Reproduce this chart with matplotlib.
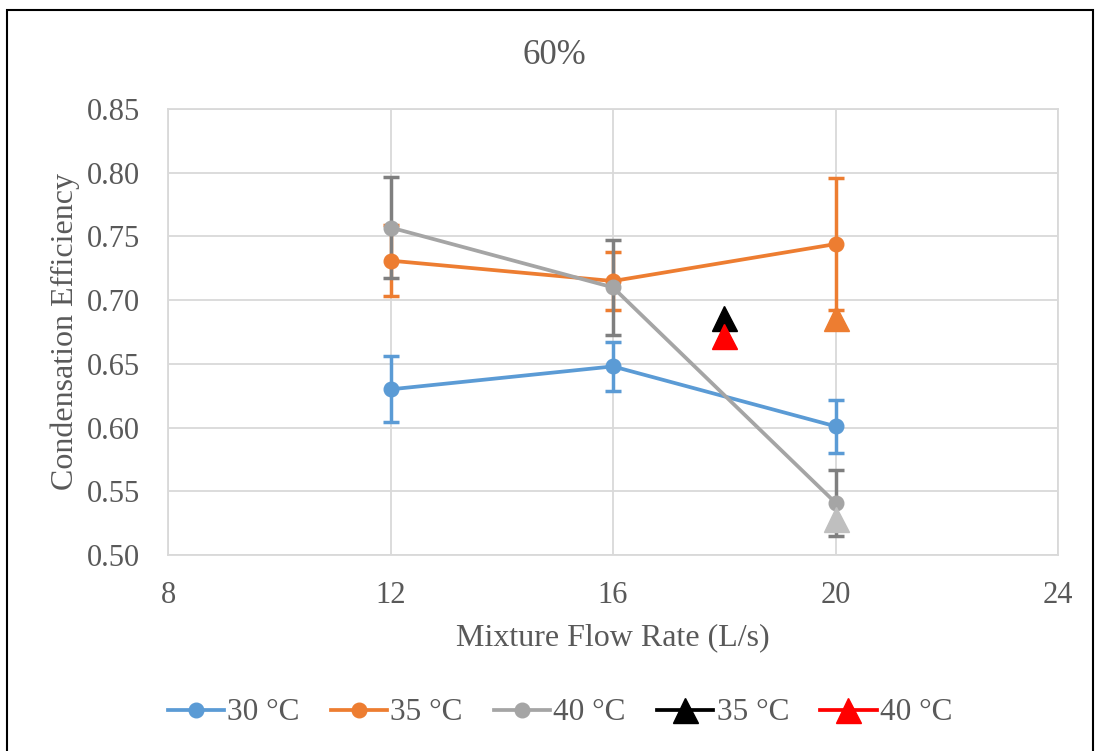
import matplotlib
matplotlib.use("Agg")
import matplotlib.pyplot as plt
from matplotlib.lines import Line2D
from matplotlib.patches import Rectangle

plt.rcParams['font.family'] = ['Liberation Serif', 'DejaVu Serif']

flow = [12, 16, 20]
eff_30 = [0.630, 0.648, 0.601]
err_30 = [0.026, 0.019, 0.021]
eff_35 = [0.731, 0.715, 0.744]
err_35 = [0.028, 0.023, 0.052]
eff_40 = [0.757, 0.710, 0.541]
err_40 = [0.040, 0.037, 0.026]

tri_black_x = [18]
tri_black_y = [0.686]
tri_red_x = [18]
tri_red_y = [0.672]
tri_orange_x = [20]
tri_orange_y = [0.686]
tri_grey_x = [20]
tri_grey_y = [0.528]

xticks = [8, 12, 16, 20, 24]
yticks = [0.50, 0.55, 0.60, 0.65, 0.70, 0.75, 0.80, 0.85]

c30 = '#5b9bd5'
c35 = '#ed7d31'
c40 = '#a5a5a5'
c40e = '#7f7f7f'
txt = '#595959'

fig = plt.figure(figsize=(11.01, 7.51), dpi=100)
W, H = 1101, 751
ax = fig.add_axes([168 / W, (H - 555) / H, 890 / W, 446 / H])

# outer border
fig.add_artist(Rectangle((7 / W, -0.01), (1093 - 7) / W, (H - 10) / H + 0.01,
                         transform=fig.transFigure, fill=False,
                         edgecolor='black', linewidth=1.5))

for y, e, ec in [(eff_30, err_30, c30), (eff_35, err_35, c35), (eff_40, err_40, c40e)]:
    ax.errorbar(flow, y, yerr=e, fmt='none', ecolor=ec, elinewidth=2.5,
                capsize=6, capthick=2.5, zorder=2)

ax.plot(flow, eff_30, '-o', color=c30, lw=2.7, ms=10.5, zorder=3)
ax.plot(flow, eff_35, '-o', color=c35, lw=2.7, ms=10.5, zorder=3)
ax.plot(flow, eff_40, '-o', color=c40, lw=2.7, ms=10.5, zorder=4)

ax.plot(tri_black_x, tri_black_y, '^', color='black', ms=18, zorder=5)
ax.plot(tri_red_x, tri_red_y, '^', color='red', ms=18, zorder=6)
ax.plot(tri_orange_x, tri_orange_y, '^', color=c35, ms=18, zorder=5)
ax.plot(tri_grey_x, tri_grey_y, '^', color='#bfbfbf', ms=18, zorder=5)

ax.set_xlim(8, 24)
ax.set_ylim(0.50, 0.85)
ax.set_xticks(xticks)
ax.set_yticks(yticks)
ax.set_yticklabels([f'{v:.2f}' for v in yticks])
ax.grid(True, color='#d9d9d9', lw=1.3, zorder=0)
ax.set_axisbelow(True)
for s in ax.spines.values():
    s.set_color('#d9d9d9')
    s.set_linewidth(1.3)
ax.tick_params(length=0, labelsize=22, labelcolor=txt)
ax.tick_params(axis='y', pad=20)
ax.tick_params(axis='x', pad=19)

ax.set_xlabel('Mixture Flow Rate (L/s)', fontsize=23, color=txt, labelpad=9)
ax.set_ylabel('Condensation Efficiency', fontsize=23, color=txt, labelpad=5)
fig.text(554 / W, 1 - 56 / H, '60%', fontsize=25, color=txt, ha='center', va='center')

handles = [
    Line2D([], [], color=c30, lw=2.7, marker='o', ms=10.5),
    Line2D([], [], color=c35, lw=2.7, marker='o', ms=10.5),
    Line2D([], [], color=c40, lw=2.7, marker='o', ms=10.5),
    Line2D([], [], color='black', lw=2.7, marker='^', ms=18),
    Line2D([], [], color='red', lw=2.7, marker='^', ms=18),
]
labels = ['30 °C', '35 °C', '40 °C', '35 °C', '40 °C']
fig.legend(handles, labels, loc='center', bbox_to_anchor=(560 / W, 1 - 713 / H),
           ncol=5, frameon=False, fontsize=22.5, labelcolor=txt,
           handlelength=1.8, handletextpad=0.1, columnspacing=1.0)

fig.savefig('out.png', dpi=100)
